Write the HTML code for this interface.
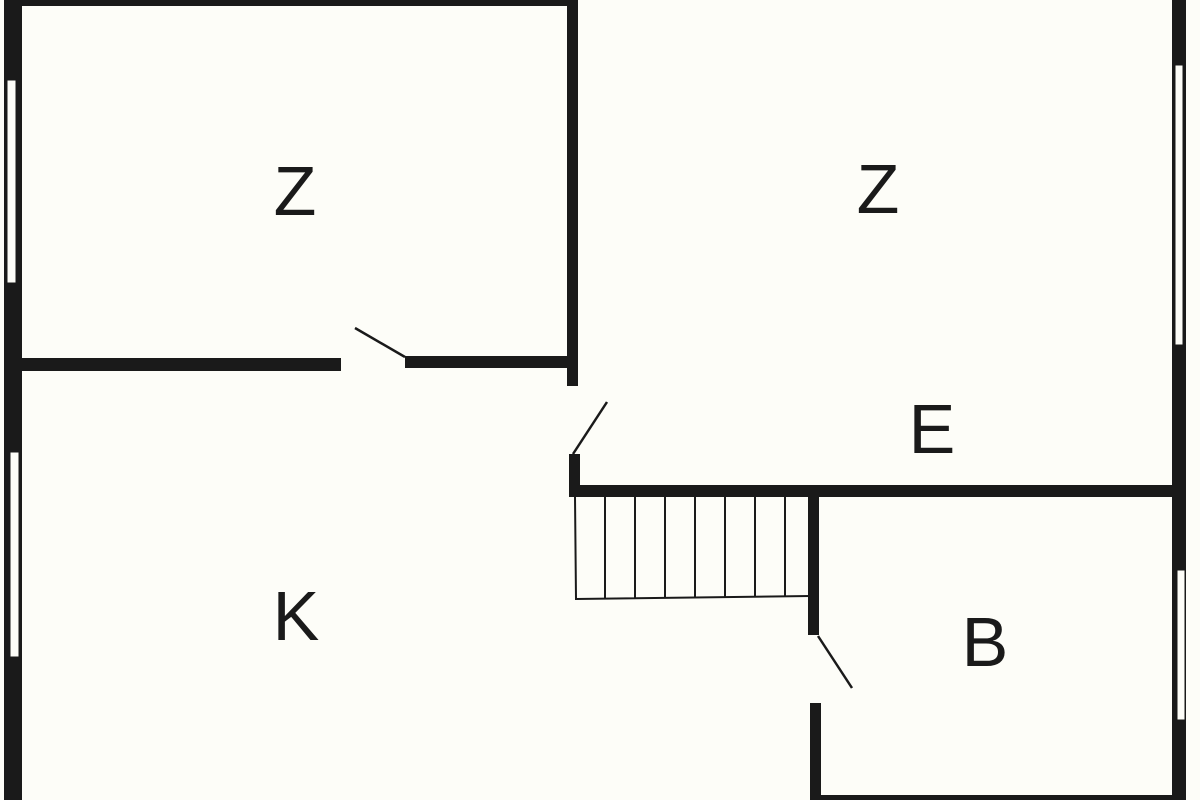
<!DOCTYPE html>
<html><head><style>
html,body{margin:0;padding:0;background:#fdfdf8;}
svg{display:block;}
text{font-family:"Liberation Sans",sans-serif;font-size:70px;fill:#1a1a1a;text-anchor:middle;}
</style></head><body>
<svg width="1200" height="800" viewBox="0 0 1200 800">
<rect width="1200" height="800" fill="#fdfdf8"/>
<g fill="#1a1a1a">
<!-- left outer wall -->
<rect x="4" y="0" width="18" height="800"/>
<!-- top wall -->
<rect x="4" y="0" width="570" height="6"/>
<!-- middle vertical wall -->
<rect x="567" y="0" width="11" height="386"/>
<rect x="569" y="454" width="11" height="43"/>
<!-- upper horizontal wall -->
<rect x="22" y="358" width="319" height="13"/>
<rect x="405" y="356" width="168" height="12"/>
<!-- E/B wall -->
<rect x="569" y="485" width="616" height="12"/>
<!-- right outer wall -->
<rect x="1172" y="0" width="14" height="800"/>
<!-- B/K wall -->
<rect x="808" y="495" width="11" height="140"/>
<rect x="810" y="703" width="11" height="97"/>
<!-- bottom wall -->
<rect x="815" y="795" width="370" height="5"/>
</g>
<!-- windows -->
<g fill="#fdfdf8" stroke="#1a1a1a" stroke-width="1">
<rect x="7" y="80" width="9" height="203"/>
<rect x="10" y="452" width="9" height="205"/>
<rect x="1175" y="65" width="8" height="280"/>
<rect x="1177" y="570" width="8" height="150"/>
</g>
<!-- door leaves -->
<g stroke="#1a1a1a" stroke-width="2.5" fill="none">
<line x1="355" y1="328" x2="405" y2="357"/>
<line x1="573" y1="454" x2="607" y2="402"/>
<line x1="818" y1="636" x2="852" y2="688"/>
</g>
<!-- stairs -->
<g stroke="#1a1a1a" stroke-width="2" fill="none">
<polyline points="575,497 576,599 810,596"/>
<line x1="605" y1="497" x2="605" y2="598"/>
<line x1="635" y1="497" x2="635" y2="598"/>
<line x1="665" y1="497" x2="665" y2="598"/>
<line x1="695" y1="497" x2="695" y2="597"/>
<line x1="725" y1="497" x2="725" y2="597"/>
<line x1="755" y1="497" x2="755" y2="597"/>
<line x1="785" y1="497" x2="785" y2="597"/>
</g>
<text x="295" y="215">Z</text>
<text x="878" y="213">Z</text>
<text x="932" y="453">E</text>
<text x="296" y="640">K</text>
<text x="985" y="666">B</text>
</svg>
</body></html>
